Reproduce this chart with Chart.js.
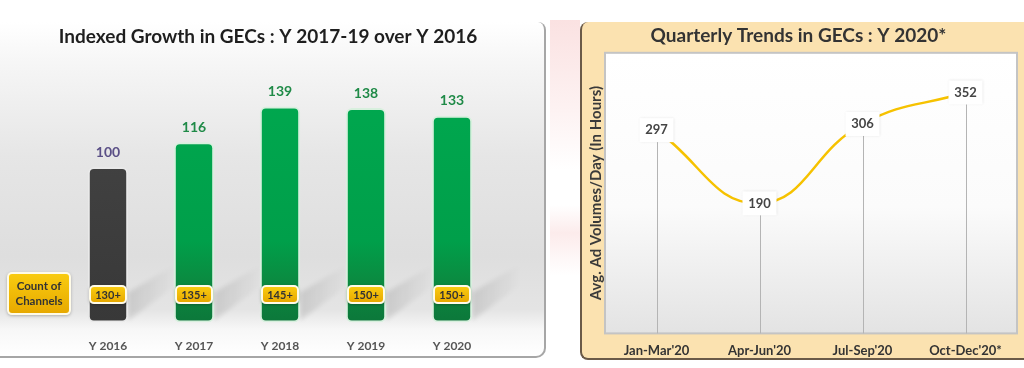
<!DOCTYPE html>
<html>
<head>
<meta charset="utf-8">
<script src="https://cdn.jsdelivr.net/npm/chart.js@4.4.1/dist/chart.umd.min.js"></script>
<style>
  body { margin: 0; width: 1024px; height: 368px; background: #fff; position: relative; overflow: hidden; font-family: Lato, sans-serif; }
  #leftPanel { position: absolute; left: -4px; top: 22px; width: 548px; height: 334px;
    background: linear-gradient(to bottom, #ffffff 0%, #f6f6f6 12%, #e6e6e6 40%, #dedede 70%, #e4e4e4 86%, #f7f7f7 92%, #ffffff 100%);
    border-right: 2px solid #a6a6a6; border-bottom: 2px solid #a6a6a6; border-radius: 0 8px 10px 0; }
  #pink1 { position: absolute; left: 550px; top: 20px; width: 30px; height: 150px; background: linear-gradient(to bottom, rgba(245,190,190,0.45), rgba(245,190,190,0.2) 60%, rgba(245,190,190,0)); }
  #pink2 { position: absolute; left: 550px; top: 205px; width: 30px; height: 70px; background: linear-gradient(to bottom, rgba(245,190,190,0), rgba(245,190,190,0.3) 40%, rgba(245,190,190,0)); }
  #rightPanel { position: absolute; left: 580px; top: 22px; width: 442px; height: 336px; background: #fbe2b0;
    border-left: 2px solid #6a5a48; border-bottom: 2px solid #6a5a48; border-radius: 8px 0 0 8px; }
  canvas { position: absolute; top: 0; }
  #wrapLeft { position: absolute; left: 0; top: 0; width: 548px; height: 368px; }
  #wrapRight { position: absolute; left: 580px; top: 0; width: 444px; height: 368px; }
</style>
</head>
<body>
<div id="pink1"></div>
<div id="pink2"></div>
<div id="leftPanel"></div>
<div id="rightPanel"></div>
<div id="wrapLeft"><canvas id="barChart"></canvas></div>
<div id="wrapRight"><canvas id="lineChart"></canvas></div>
<script>
// ---- data ----
const years = ['Y 2016', 'Y 2017', 'Y 2018', 'Y 2019', 'Y 2020'];
const indexValues = [100, 116, 139, 138, 133];
const channelCounts = ['130+', '135+', '145+', '150+', '150+'];

const quarters = ["Jan-Mar'20", "Apr-Jun'20", "Jul-Sep'20", "Oct-Dec'20*"];
const adVolumes = [297, 190, 306, 352];

const fontName = 'Lato, "Open Sans", sans-serif';

function roundRect(ctx, x, y, w, h, r) {
  ctx.beginPath();
  ctx.moveTo(x + r, y);
  ctx.arcTo(x + w, y, x + w, y + h, r);
  ctx.arcTo(x + w, y + h, x, y + h, r);
  ctx.arcTo(x, y + h, x, y, r);
  ctx.arcTo(x, y, x + w, y, r);
  ctx.closePath();
}

function yellowBox(ctx, cx, cy, w, h) {
  var g = ctx.createLinearGradient(0, cy - h / 2, 0, cy + h / 2);
  g.addColorStop(0, '#f9cb10');
  g.addColorStop(1, '#e7a900');
  ctx.save();
  ctx.shadowColor = 'rgba(0,0,0,0.25)';
  ctx.shadowBlur = 3;
  ctx.shadowOffsetY = 1;
  roundRect(ctx, cx - w / 2 - 2, cy - h / 2 - 2, w + 4, h + 4, 5);
  ctx.fillStyle = '#fffbe8';
  ctx.fill();
  ctx.restore();
  roundRect(ctx, cx - w / 2, cy - h / 2, w, h, 3);
  ctx.fillStyle = g;
  ctx.fill();
}

// ---- left: bar chart ----
const barLabels = {
  id: 'barLabels',
  beforeDatasetsDraw(chart) {
    // soft floor shadows behind the bars
    const ctx = chart.ctx;
    const bottom = chart.chartArea.bottom;
    ctx.save();
    ctx.filter = 'blur(2px)';
    chart.getDatasetMeta(0).data.forEach(function (bar) {
      const r = bar.x + bar.width / 2;
      const g = ctx.createLinearGradient(r, 0, r + 48, 0);
      g.addColorStop(0, 'rgba(0,0,0,0.11)');
      g.addColorStop(1, 'rgba(0,0,0,0)');
      ctx.fillStyle = g;
      ctx.beginPath();
      ctx.moveTo(r, bottom - 2);
      ctx.lineTo(r, bottom - 30);
      ctx.lineTo(r + 48, bottom - 58);
      ctx.lineTo(r + 48, bottom - 38);
      ctx.closePath();
      ctx.fill();
    });
    ctx.restore();
  },
  afterDatasetsDraw(chart) {
    const ctx = chart.ctx;
    const meta = chart.getDatasetMeta(0);
    const bottom = chart.chartArea.bottom;
    ctx.save();
    ctx.textAlign = 'center';
    ctx.textBaseline = 'middle';
    ctx.font = 'bold 19px ' + fontName;
    ctx.fillStyle = '#1e1e1e';
    ctx.fillText('Indexed Growth in GECs : Y 2017-19 over Y 2016', 268, 37);
    meta.data.forEach(function (bar, i) {
      ctx.font = 'bold 14px ' + fontName;
      ctx.fillStyle = i === 0 ? '#5a4f86' : '#1f8a47';
      ctx.fillText(indexValues[i], bar.x, bar.y - 15);

      yellowBox(ctx, bar.x, bottom - 28, 34, 15);
      ctx.font = 'bold 11px ' + fontName;
      ctx.fillStyle = '#333';
      ctx.fillText(channelCounts[i], bar.x, bottom - 27.5);
    });
    // count of channels tag
    yellowBox(ctx, 39, bottom - 29, 60, 39);
    ctx.font = 'bold 11.5px ' + fontName;
    ctx.fillStyle = '#333';
    ctx.fillText('Count of', 39, bottom - 36);
    ctx.fillText('Channels', 39, bottom - 21);
    ctx.restore();
  }
};

function barFill(context) {
  const chart = context.chart;
  const area = chart.chartArea;
  if (!area) return '#00a651';
  const g = chart.ctx.createLinearGradient(0, area.top, 0, area.bottom);
  if (context.dataIndex === 0) {
    g.addColorStop(0, '#474747');
    g.addColorStop(1, '#383838');
  } else {
    g.addColorStop(0, '#00aa50');
    g.addColorStop(0.7, '#009f4a');
    g.addColorStop(0.85, '#0b8a40');
    g.addColorStop(1, '#0c773a');
  }
  return g;
}

new Chart(document.getElementById('barChart'), {
  type: 'bar',
  data: {
    labels: years,
    datasets: [{
      data: indexValues,
      backgroundColor: barFill,
      borderColor: function (c) { return c.dataIndex === 0 ? '#e9e9e9' : '#d8f0de'; },
      borderWidth: 2,
      borderRadius: 6,
      borderSkipped: false,
      categoryPercentage: 1,
      barPercentage: 0.47
    }]
  },
  options: {
    responsive: true,
    maintainAspectRatio: false,
    animation: false,
    layout: { padding: { left: 65, right: 53, top: 52, bottom: -1 } },
    plugins: {
      legend: { display: false },
      tooltip: { enabled: false }
    },
    scales: {
      x: {
        grid: { display: false, drawTicks: false },
        border: { display: false },
        ticks: { color: '#555', padding: 16, font: { family: fontName, size: 12, weight: 'bold' } }
      },
      y: { display: false, min: 0, max: 174 }
    }
  },
  plugins: [barLabels]
});

// ---- right: line chart ----
const lineDecor = {
  id: 'lineDecor',
  beforeDatasetsDraw(chart) {
    const ctx = chart.ctx;
    const a = chart.chartArea;
    ctx.save();
    const g = ctx.createLinearGradient(0, a.top, 0, a.bottom);
    g.addColorStop(0, '#ffffff');
    g.addColorStop(0.55, '#fbfbfb');
    g.addColorStop(1, '#e3e3e3');
    ctx.fillStyle = g;
    ctx.fillRect(a.left, a.top, a.right - a.left, a.bottom - a.top);
    ctx.strokeStyle = '#c4c4c4';
    ctx.lineWidth = 2;
    ctx.strokeRect(a.left, a.top, a.right - a.left, a.bottom - a.top);
    // drop lines
    ctx.strokeStyle = '#b4b4b4';
    ctx.lineWidth = 1;
    chart.getDatasetMeta(0).data.forEach(function (p) {
      ctx.beginPath();
      ctx.moveTo(Math.round(p.x) + 0.5, p.y);
      ctx.lineTo(Math.round(p.x) + 0.5, a.bottom);
      ctx.stroke();
    });
    ctx.restore();
  },
  afterDatasetsDraw(chart) {
    const ctx = chart.ctx;
    ctx.save();
    ctx.font = 'bold 13px ' + fontName;
    ctx.textAlign = 'center';
    ctx.textBaseline = 'middle';
    chart.getDatasetMeta(0).data.forEach(function (p, i) {
      ctx.save();
      ctx.shadowColor = 'rgba(0,0,0,0.12)';
      ctx.shadowBlur = 3;
      ctx.fillStyle = '#ffffff';
      ctx.fillRect(p.x - 17, p.y - 12, 34, 24);
      ctx.restore();
      ctx.fillStyle = '#454545';
      ctx.fillText(adVolumes[i], p.x, p.y);
    });
    ctx.restore();
  }
};

new Chart(document.getElementById('lineChart'), {
  type: 'line',
  data: {
    labels: quarters,
    datasets: [{
      data: adVolumes,
      borderColor: '#f6c200',
      borderWidth: 2.5,
      tension: 0.45,
      pointRadius: 0,
      fill: false
    }]
  },
  options: {
    responsive: true,
    maintainAspectRatio: false,
    animation: false,
    layout: { padding: { left: 0, right: 7, top: 0, bottom: -1 } },
    plugins: {
      legend: { display: false },
      tooltip: { enabled: false },
      title: {
        display: true,
        text: 'Quarterly Trends in GECs : Y 2020*',
        color: '#333',
        font: { family: fontName, size: 19, weight: 'bold' },
        padding: { top: 24, bottom: 6 }
      }
    },
    scales: {
      x: {
        offset: true,
        grid: { display: false, drawTicks: false },
        border: { display: false },
        ticks: { color: '#333', padding: 10, font: { family: fontName, size: 13, weight: 'bold' } }
      },
      y: {
        min: 0,
        max: 410,
        grid: { display: false, drawTicks: false },
        border: { display: false },
        ticks: { display: false },
        title: {
          display: true,
          text: 'Avg. Ad Volumes/Day (In Hours)',
          color: '#3a3a3a',
          font: { family: fontName, size: 15, weight: 'bold' },
          padding: { top: 7, bottom: 0 }
        }
      }
    }
  },
  plugins: [lineDecor]
});
</script>
</body>
</html>
